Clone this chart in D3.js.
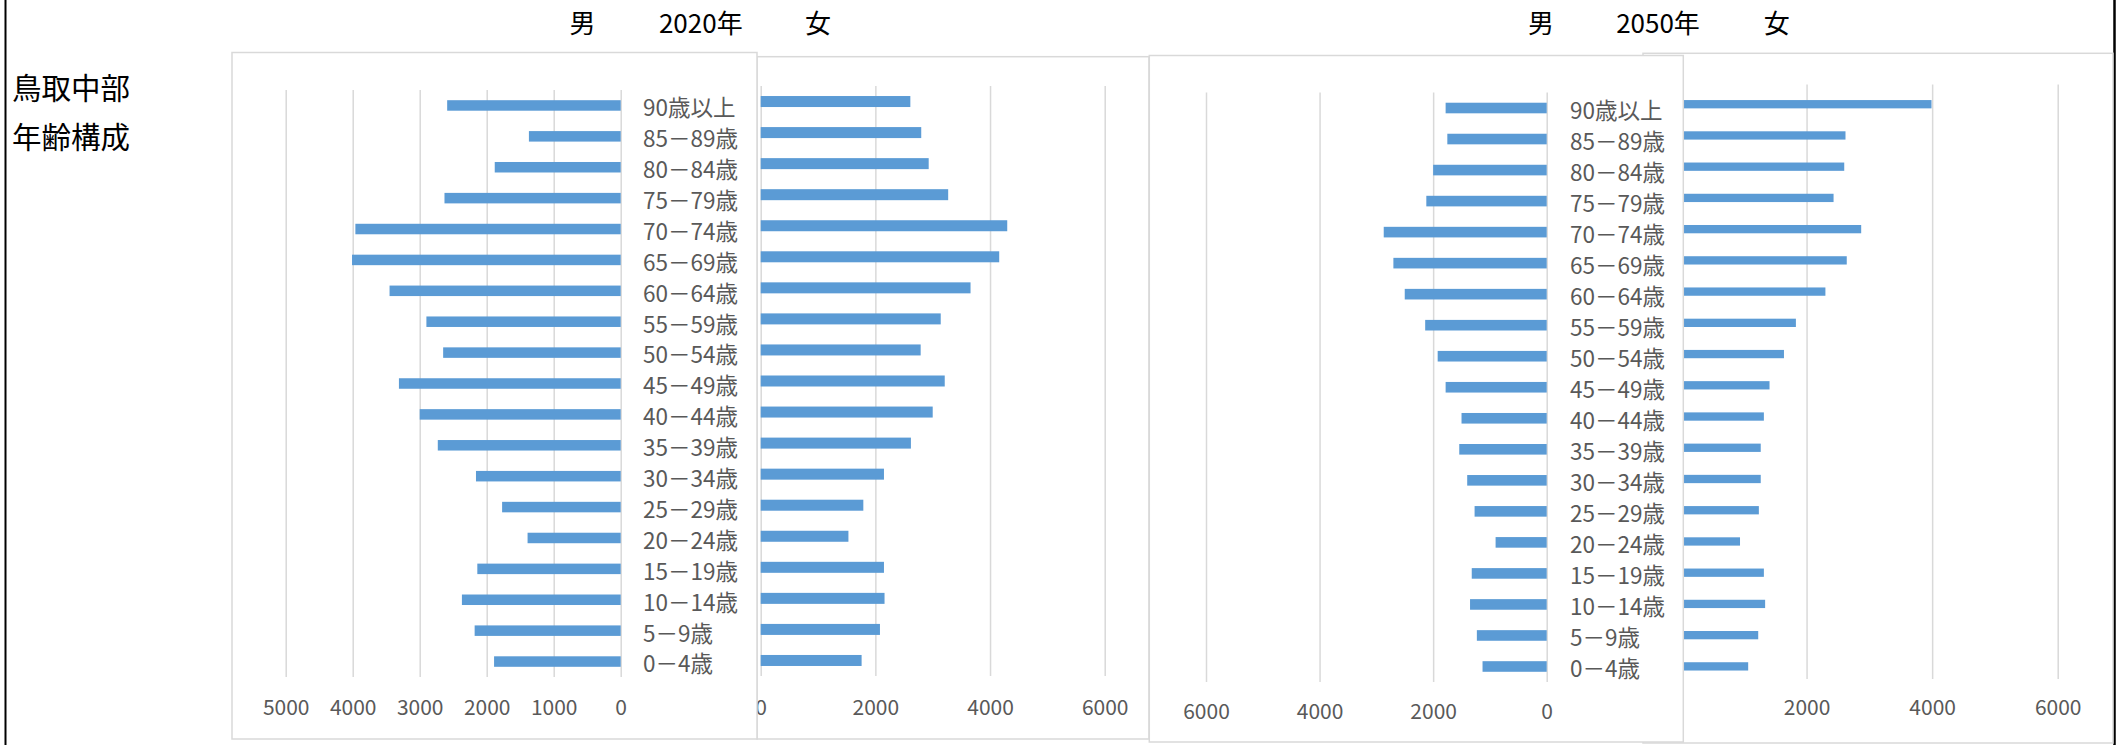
<!DOCTYPE html>
<html>
<head>
<meta charset="utf-8">
<script src="https://cdn.jsdelivr.net/npm/d3@7"></script>
<style>
  body { margin: 0; background: #fff; }
  text { font-family: "Noto Sans CJK JP", "Noto Sans", sans-serif; }
</style>
</head>
<body>
<svg id="chart" width="2116" height="745"></svg>
<script>
// age groups, top to bottom
const ageGroups = ["90歳以上", "85－89歳", "80－84歳", "75－79歳", "70－74歳", "65－69歳",
  "60－64歳", "55－59歳", "50－54歳", "45－49歳", "40－44歳", "35－39歳", "30－34歳",
  "25－29歳", "20－24歳", "15－19歳", "10－14歳", "5－9歳", "0－4歳"];

// population
const male2020   = [2590, 1370, 1880, 2630, 3960, 4010, 3450, 2900, 2650, 3310, 3000, 2730, 2160, 1770, 1390, 2140, 2370, 2180, 1890];
const female2020 = [2610, 2800, 2930, 3270, 4300, 4160, 3660, 3140, 2790, 3210, 3000, 2620, 2150, 1790, 1530, 2150, 2160, 2080, 1760];
const male2050   = [1780, 1750, 2000, 2120, 2870, 2700, 2500, 2140, 1920, 1780, 1500, 1540, 1400, 1270, 900, 1320, 1350, 1230, 1130];
const female2050 = [3990, 2620, 2600, 2430, 2870, 2640, 2300, 1830, 1640, 1410, 1320, 1270, 1270, 1240, 940, 1320, 1340, 1230, 1070];

// axis ticks
const ticks2020Male = [0, 1000, 2000, 3000, 4000, 5000];
const ticks2020Female = [0, 2000, 4000, 6000];
const ticks2050Male = [0, 2000, 4000, 6000];
const ticks2050Female = [2000, 4000, 6000]; // the 0 sits under the 男 panel

// header texts
const titles2020 = ["男", "2020年", "女"];
const titles2050 = ["男", "2050年", "女"];
const sideTitle = ["鳥取中部", "年齢構成"];

const svg = d3.select("#chart");
const barColor = "#5b9bd5";
const lineColor = "#d9d9d9";

// frame lines
svg.append("line").attr("x1", 5.5).attr("x2", 5.5).attr("y1", 0).attr("y2", 745)
  .attr("stroke", "#000").attr("stroke-width", 2);
svg.append("line").attr("x1", 2114.5).attr("x2", 2114.5).attr("y1", 0).attr("y2", 745)
  .attr("stroke", "#000").attr("stroke-width", 2.5);

function drawPanel(cfg) {
  const g = svg.append("g");

  g.append("rect")
    .attr("x", cfg.box[0]).attr("y", cfg.box[1])
    .attr("width", cfg.box[2]).attr("height", cfg.box[3])
    .attr("fill", "#fff").attr("stroke", lineColor).attr("stroke-width", 1.5);

  const x = d3.scaleLinear().domain([0, cfg.max]).range(cfg.xRange);
  const step = (cfg.yRange[1] - cfg.yRange[0]) / ageGroups.length;
  const pad = 1 - cfg.barH / step;
  const y = d3.scaleBand().domain(ageGroups).range(cfg.yRange)
    .paddingInner(pad).paddingOuter(pad / 2);

  // gridlines + tick labels
  const axis = d3.axisBottom(x)
    .tickValues(cfg.ticks)
    .tickSize(-(cfg.grid[1] - cfg.grid[0]))
    .tickFormat(d3.format("d"));
  const ax = g.append("g")
    .attr("transform", `translate(0,${cfg.grid[1]})`)
    .call(axis);
  ax.select(".domain").remove();
  ax.selectAll(".tick line").attr("stroke", lineColor).attr("stroke-width", 1.5);
  ax.selectAll(".tick text")
    .attr("y", cfg.tickY - cfg.grid[1])
    .attr("dy", "0.35em")
    .attr("fill", "#595959")
    .style("font-size", "21px");

  // bars
  g.selectAll("rect.bar")
    .data(cfg.values)
    .join("rect")
    .attr("class", "bar")
    .attr("x", d => Math.min(x(0), x(d)))
    .attr("width", d => Math.abs(x(d) - x(0)))
    .attr("y", (d, i) => y(ageGroups[i]))
    .attr("height", y.bandwidth())
    .attr("fill", barColor);

  // category labels
  if (cfg.labelX) {
    g.selectAll("text.cat")
      .data(ageGroups)
      .join("text")
      .attr("class", "cat")
      .attr("x", cfg.labelX)
      .attr("y", d => y(d) + y.bandwidth() / 2 + 3)
      .attr("dy", "0.35em")
      .attr("fill", "#595959")
      .style("font-size", "22.5px")
      .text(d => d);
  }
}

// draw order matters: panels overlap a little
drawPanel({ values: female2020, max: 6000, ticks: ticks2020Female,
  box: [757, 56.7, 392, 682.3], xRange: [760.7, 1104.7],
  yRange: [86, 676], grid: [86, 676], barH: 11, tickY: 708 });
drawPanel({ values: male2020, max: 5000, ticks: ticks2020Male,
  box: [232, 52.5, 525, 686.5], xRange: [620.7, 285.7],
  yRange: [90, 677], grid: [90, 677], barH: 10.5, tickY: 708, labelX: 643 });
drawPanel({ values: female2050, max: 6000, ticks: ticks2050Female,
  box: [1643, 53.3, 470, 689.7], xRange: [1681, 2057.7],
  yRange: [88.6, 682], grid: [84.5, 679], barH: 8.3, tickY: 708 });
drawPanel({ values: male2050, max: 6000, ticks: ticks2050Male,
  box: [1149.3, 55.5, 534, 686.5], xRange: [1546.7, 1206],
  yRange: [92.5, 682], grid: [92.5, 682], barH: 10.6, tickY: 712, labelX: 1570 });

// headers
function drawTitles(texts, xs) {
  svg.selectAll(null)
    .data(texts)
    .join("text")
    .attr("x", (d, i) => xs[i])
    .attr("y", 24)
    .attr("dy", "0.35em")
    .attr("text-anchor", "middle")
    .attr("fill", "#000")
    .style("font-size", "26px")
    .text(d => d);
}
drawTitles(titles2020, [582.5, 700.8, 818]);
drawTitles(titles2050, [1541, 1658, 1776.7]);

svg.selectAll(null)
  .data(sideTitle)
  .join("text")
  .attr("x", 12)
  .attr("y", (d, i) => 89 + i * 49)
  .attr("dy", "0.35em")
  .attr("fill", "#000")
  .style("font-size", "29.5px")
  .text(d => d);
</script>
</body>
</html>
